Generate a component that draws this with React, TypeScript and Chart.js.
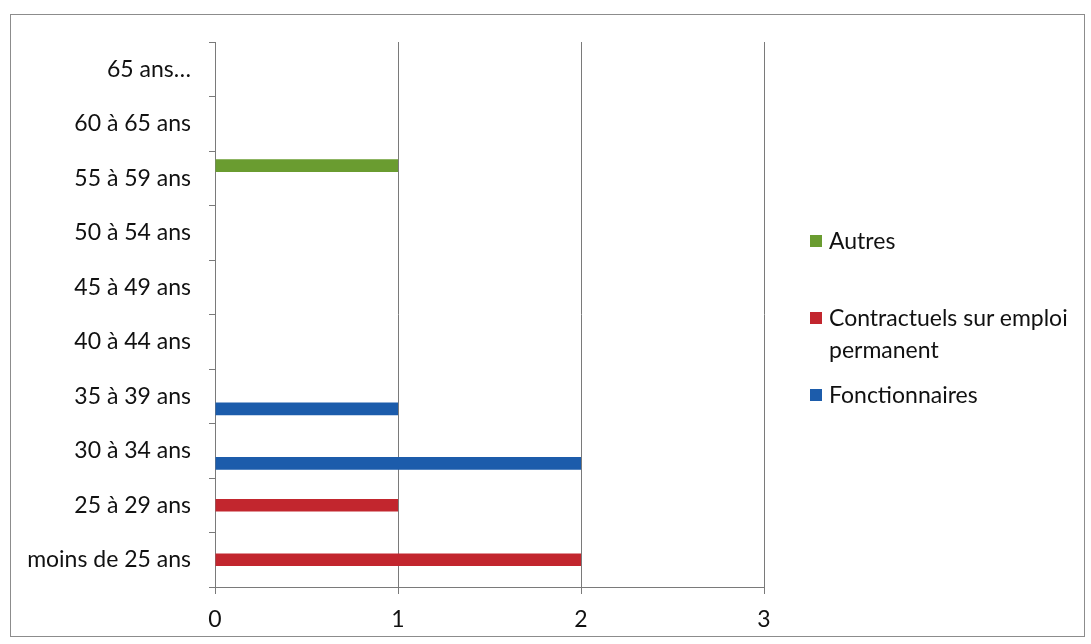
import React, { useEffect, useRef } from "react";
import { Chart, registerables } from "chart.js";

Chart.register(...registerables);

const categories = [
  "65 ans…",
  "60 à 65 ans",
  "55 à 59 ans",
  "50 à 54 ans",
  "45 à 49 ans",
  "40 à 44 ans",
  "35 à 39 ans",
  "30 à 34 ans",
  "25 à 29 ans",
  "moins de 25 ans",
];

const autres = [0, 0, 1, 0, 0, 0, 0, 0, 0, 0];
const contractuels = [0, 0, 0, 0, 0, 0, 0, 0, 1, 2];
const fonctionnaires = [0, 0, 0, 0, 0, 0, 1, 2, 0, 0];

const xTicks = [0, 1, 2, 3];

const seriesNames = ["Autres", "Contractuels sur emploi permanent", "Fonctionnaires"];
const legendLines = [["Autres"], ["Contractuels sur emploi", "permanent"], ["Fonctionnaires"]];
const seriesColors = ["#6a9c30", "#c2262e", "#1c5cab"];

const FONT = "Lato, 'Noto Sans', sans-serif";
const FONT_SIZE = 23;

export default function App() {
  const canvasRef = useRef<HTMLCanvasElement | null>(null);

  useEffect(() => {
    document.body.style.margin = "0";
    const ctx = canvasRef.current!.getContext("2d")!;
    const data = [autres, contractuels, fonctionnaires];
    const chart = new Chart(ctx, {
      type: "bar",
      data: {
        labels: categories,
        datasets: data.map((d, i) => ({
          label: seriesNames[i],
          data: d,
          backgroundColor: seriesColors[i],
          borderWidth: 0,
          barPercentage: 1,
          categoryPercentage: 0.7,
        })),
      },
      options: {
        indexAxis: "y",
        responsive: false,
        animation: false,
        layout: { padding: { left: 0, right: 327, top: 42, bottom: 17 } },
        plugins: { legend: { display: false }, tooltip: { enabled: false } },
        scales: {
          x: {
            min: 0,
            max: 3,
            afterBuildTicks: (scale: any) => {
              scale.ticks = xTicks.map((v) => ({ value: v }));
            },
            afterFit: (scale: any) => {
              scale.height = 40;
            },
            grid: {
              color: "#7a7a7a",
              lineWidth: 1,
              drawTicks: true,
              tickLength: 7,
            },
            border: { display: true, color: "#7a7a7a", width: 1 },
            ticks: {
              color: "#111111",
              padding: 12,
              font: { family: FONT, size: FONT_SIZE },
            },
          },
          y: {
            afterFit: (scale: any) => {
              scale.width = 215;
            },
            grid: {
              display: true,
              drawOnChartArea: false,
              drawTicks: true,
              tickLength: 6,
              color: "#7a7a7a",
              offset: true,
            },
            border: { display: true, color: "#7a7a7a", width: 1 },
            ticks: {
              color: "#111111",
              padding: 18,
              font: { family: FONT, size: FONT_SIZE },
            },
          },
        },
      },
    });
    return () => chart.destroy();
  }, []);

  const legendTops = [224, 301, 378];

  return (
    <div style={{ position: "relative", width: 1091, height: 644, background: "#fff" }}>
      <canvas ref={canvasRef} width={1091} height={644} style={{ position: "absolute", left: 0, top: 0 }} />
      <div
        style={{
          position: "absolute",
          left: 10,
          top: 14,
          width: 1073,
          height: 621,
          border: "1.5px solid #8c8c8c",
          pointerEvents: "none",
        }}
      />
      {legendLines.map((lines, i) => (
        <div
          key={i}
          style={{
            position: "absolute",
            left: 810,
            top: legendTops[i],
            fontFamily: FONT,
            fontSize: FONT_SIZE,
            color: "#111111",
            lineHeight: "32px",
            display: "flex",
            alignItems: "flex-start",
          }}
        >
          <div
            style={{
              width: 12,
              height: 12,
              background: seriesColors[i],
              marginTop: 11,
              marginRight: 7,
            }}
          />
          <div>
            {lines.map((l, j) => (
              <div key={j} style={{ height: 32, whiteSpace: "nowrap" }}>{l}</div>
            ))}
          </div>
        </div>
      ))}
    </div>
  );
}
